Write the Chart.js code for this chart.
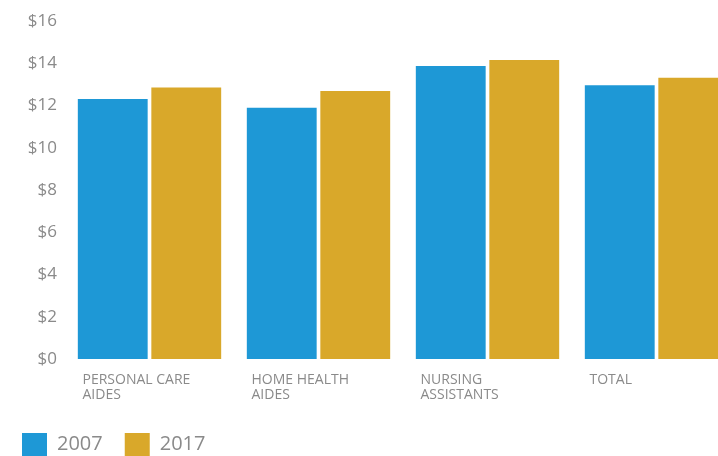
<!DOCTYPE html>
<html>
<head>
<meta charset="utf-8">
<script src="https://cdn.jsdelivr.net/npm/chart.js@4"></script>
<style>
    html, body { margin: 0; padding: 0; background: #fff; overflow: hidden; }
    #wrap { position: relative; width: 750px; height: 456px; }
</style>
</head>
<body>
<div id="wrap"><canvas id="wageChart"></canvas></div>
<script>
// hourly wages by occupation
const categories = [
    ['PERSONAL CARE', 'AIDES'],
    ['HOME HEALTH', 'AIDES'],
    ['NURSING', 'ASSISTANTS'],
    'TOTAL'
];
const wages2007 = [12.31, 11.89, 13.87, 12.96];
const wages2017 = [12.85, 12.69, 14.15, 13.31];
const yTicks = [0, 2, 4, 6, 8, 10, 12, 14, 16];

const blue = '#1e98d6';
const gold = '#d9a82a';

const ctx = document.getElementById('wageChart').getContext('2d');

new Chart(ctx, {
    type: 'bar',
    data: {
        labels: categories,
        datasets: [
            { label: '2007', data: wages2007, backgroundColor: blue, borderWidth: 0 },
            { label: '2017', data: wages2017, backgroundColor: gold, borderWidth: 0 }
        ]
    },
    options: {
        responsive: true,
        maintainAspectRatio: false,
        animation: false,
        categoryPercentage: 0.87,
        barPercentage: 0.95,
        layout: {
            padding: { left: 0, top: 21, right: 9, bottom: -10 }
        },
        plugins: {
            tooltip: { enabled: false },
            legend: {
                position: 'bottom',
                align: 'start',
                labels: {
                    boxWidth: 25,
                    boxHeight: 23,
                    padding: 22,
                    color: '#8a8a8a',
                    font: { family: 'Open Sans', size: 20 }
                }
            }
        },
        scales: {
            x: {
                grid: { display: false, drawTicks: false },
                border: { display: false },
                afterFit: scale => { scale.height = 52; },
                ticks: {
                    align: 'start',
                    labelOffset: -67,
                    padding: 14,
                    maxRotation: 0,
                    color: '#8a8a8a',
                    font: { family: 'Open Sans', size: 14, lineHeight: 1.05 }
                }
            },
            y: {
                min: 0,
                max: 16,
                grid: { display: false, drawTicks: false },
                border: { display: false },
                afterFit: scale => { scale.width = 65; },
                afterBuildTicks: scale => {
                    scale.ticks = yTicks.map(v => ({ value: v }));
                },
                ticks: {
                    padding: 8,
                    color: '#8a8a8a',
                    font: { family: 'Open Sans', size: 17 },
                    callback: v => '$' + v
                }
            }
        }
    }
});
</script>
</body>
</html>
